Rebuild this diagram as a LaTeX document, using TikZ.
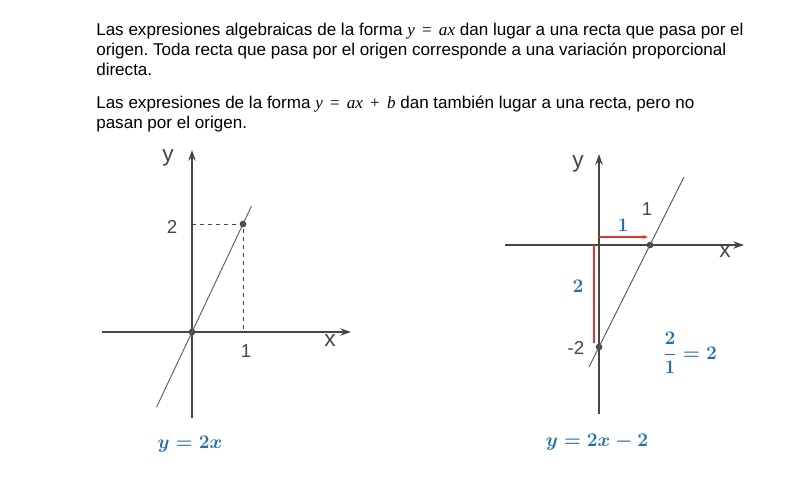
\documentclass[tikz,border=0pt]{standalone}
\usepackage{fontspec}
\setmainfont{Liberation Sans}
\newfontfamily\mathtxt{Liberation Serif}
\usepackage{amsmath}
\usetikzlibrary{arrows.meta}
\definecolor{eqblue}{RGB}{31,110,190}
\definecolor{stepred}{RGB}{232,50,50}
\definecolor{axisgray}{RGB}{70,70,70}
\newcommand{\mv}[1]{{\mathtxt\itshape #1}}
\newcommand{\mop}[1]{\hspace{0.42em}{\mathtxt #1}\hspace{0.42em}}

\begin{document}
\frenchspacing
\begin{tikzpicture}[x=0.75pt, y=-0.75pt, >={Stealth[length=8pt, width=5.5pt]}]
    \tikzstyle{para} = [align=left, inner sep=0pt, anchor=north west, font=\fontsize{12.8}{15}\selectfont]
    \tikzstyle{axis} = [draw=axisgray, line width=1.6pt, ->]
    \tikzstyle{graph} = [draw=gray!75!black, line width=0.7pt]
    \tikzstyle{guide} = [draw=axisgray, dashed, line width=0.6pt]
    \tikzstyle{tick} = [text=axisgray, font=\fontsize{14}{15}\selectfont]
    \tikzstyle{axlabel} = [text=axisgray, font=\fontsize{17}{18}\selectfont]
    \tikzstyle{eq} = [text=eqblue, font=\fontsize{15.5}{17}\selectfont\boldmath]
    \tikzstyle{dot} = [circle, fill=axisgray, inner sep=0pt, minimum size=5pt]
    \tikzstyle{stepline} = [draw=stepred, line width=1.1pt]

    \useasboundingbox (0,0) rectangle (791,476);
    \fill[white] (0,0) rectangle (791,476);

    % Text
    \node[para] (par1) at (96,23) {Las expresiones algebraicas de la forma \mv{y}\mop{=}\mv{ax} dan lugar a una recta que pasa por el\\origen. Toda recta que pasa por el origen corresponde a una variación proporcional\\directa.};
    \node[para] (par2) at (96,96) {Las expresiones de la forma \mv{y}\mop{=}\mv{ax}\mop{+}\mv{b} dan también lugar a una recta, pero no\\pasan por el origen.};

    % Left graph: y = 2x
    \node[dot] (oA) at (192,332) {};
    \node[dot] (pA) at (243,224) {};
    \coordinate (xA0) at (102,332);
    \coordinate (xA1) at (351,332);
    \coordinate (yA0) at (192,418);
    \coordinate (yA1) at (192,150);
    \coordinate (lA0) at (156.6,407);
    \coordinate (lA1) at (251.5,206);
    \draw[guide] (oA |- pA) -- (pA.center) -- (pA |- oA);
    \path[axis] (xA0) -- (xA1);
    \path[axis] (yA0) -- (yA1);
    \path[graph] (lA0) -- (lA1);
    \node[axlabel] (yLabA) at (168,158) {y};
    \node[axlabel] (xLabA) at (330,340) {x};
    \node[tick] (twoA) at (172,227) {2};
    \node[tick] (oneA) at (246,351) {1};
    \node[eq] (eqA) at (190,444) {$y = 2x$};

    % Right graph: y = 2x - 2
    \node[dot] (pB) at (650,245) {};
    \node[dot] (qB) at (599,347) {};
    \coordinate (xB0) at (505,245);
    \coordinate (xB1) at (744,245);
    \coordinate (yB0) at (599,414);
    \coordinate (yB1) at (599,154);
    \coordinate (lB0) at (589,367);
    \coordinate (lB1) at (684,177);
    \coordinate (runB0) at (599,237);
    \coordinate (runB1) at (648,237);
    \coordinate (riseB0) at (594,245);
    \coordinate (riseB1) at (594,343);
    \path[axis] (xB0) -- (xB1);
    \path[axis] (yB0) -- (yB1);
    \path[graph] (lB0) -- (lB1);
    \path[stepline, -{Stealth[length=4pt, width=3pt]}] (runB0) -- (runB1);
    \path[stepline] (riseB0) -- (riseB1);
    \node[axlabel] (yLabB) at (578,164) {y};
    \node[axlabel] (xLabB) at (725,252) {x};
    \node[tick] (oneB) at (647,209) {1};
    \node[tick] (mtwoB) at (576,348) {-2};
    \node[eq] (runLab) at (623,225) {$1$};
    \node[eq] (riseLab) at (578,286) {$2$};
    \node[eq] (slope) at (690,353) {$\dfrac{2}{1} = 2$};
    \node[eq] (eqB) at (597,442) {$y = 2x - 2$};

\end{tikzpicture}
\end{document}
